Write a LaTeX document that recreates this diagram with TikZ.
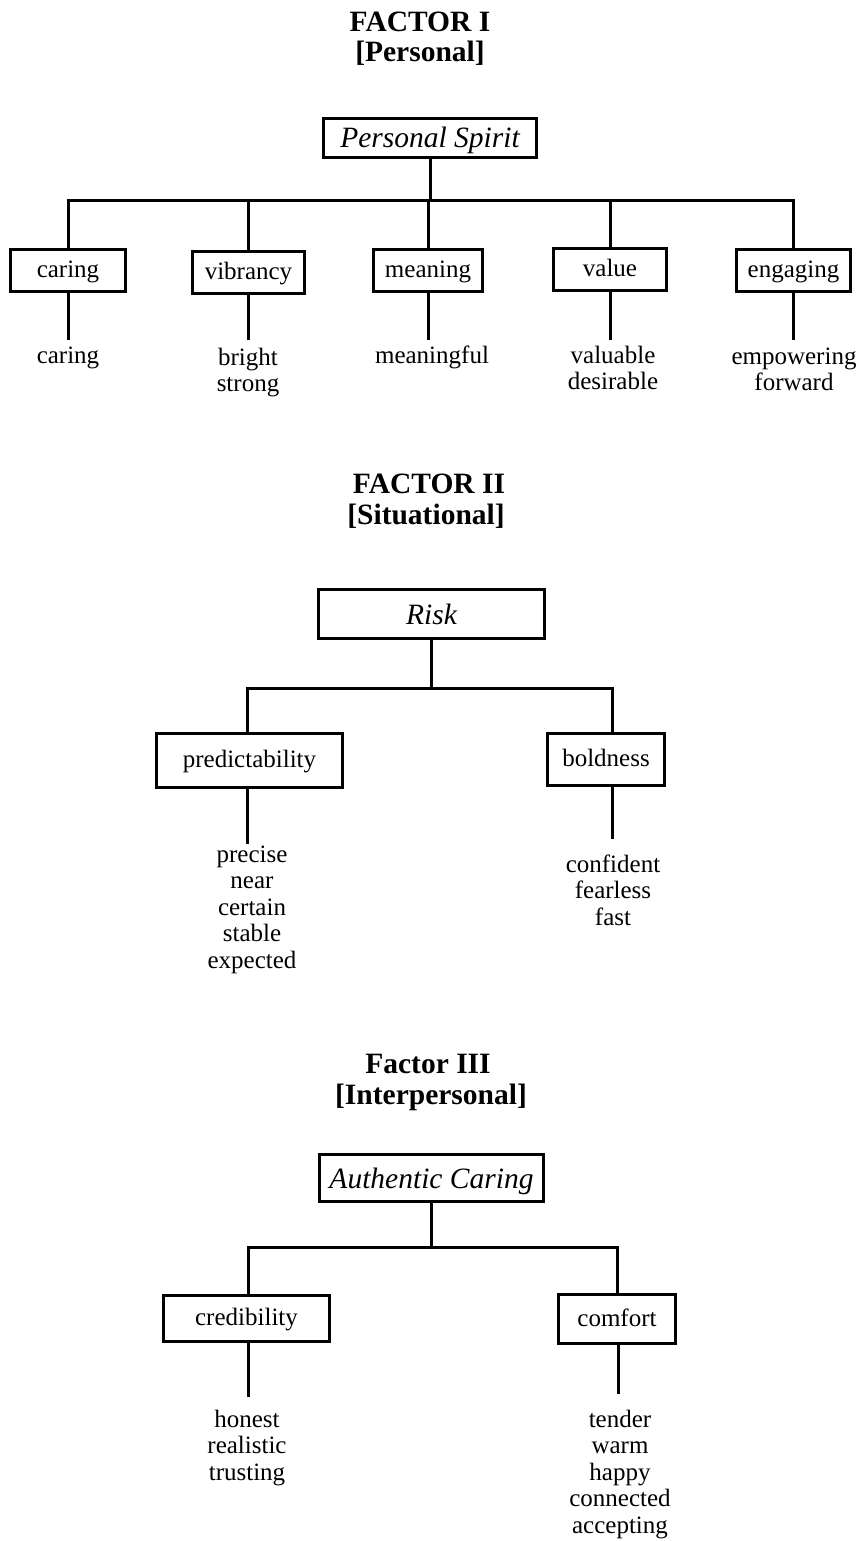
\documentclass[tikz,border=0pt]{standalone}
\usepackage{fontspec}
\setmainfont{Liberation Serif}
\begin{document}
\begin{tikzpicture}[x=1pt,y=-1pt,
  wire/.style={line width=3pt, line cap=rect},
  headline/.style={anchor=base, inner sep=0pt, font=\fontsize{29.5}{32}\selectfont\bfseries},
  factorbox/.style={draw, line width=3pt, fill=white, inner sep=0pt,
    font=\fontsize{29.5}{32}\selectfont\itshape, text height=23pt, text depth=3pt},
  aspectbox/.style={draw, line width=3pt, fill=white, inner sep=0pt,
    font=\fontsize{25}{27}\selectfont, text height=18pt, text depth=4pt},
  leaf/.style={anchor=base, inner sep=0pt, font=\fontsize{25}{26.6}\selectfont}
]
\useasboundingbox (0,0) rectangle (859,1541);

% ---------------- Factor I ----------------
\node[headline] (t1) at (420,32) {FACTOR I};
\node[headline] (s1) at (420,62) {[Personal]};

\node[factorbox, minimum width=213pt, minimum height=39pt] (ps) at (430,138) {Personal Spirit};

\node[aspectbox, minimum width=115pt, minimum height=42pt] (a1) at (68,270.5)  {caring};
\node[aspectbox, minimum width=112pt, minimum height=42pt] (a2) at (248.5,272.5) {vibrancy};
\node[aspectbox, minimum width=109pt, minimum height=42pt] (a3) at (428,270.5) {meaning};
\node[aspectbox, minimum width=113pt, minimum height=42pt] (a4) at (610,269.5) {value};
\node[aspectbox, minimum width=114pt, minimum height=42pt] (a5) at (793.5,270.5) {engaging};

\coordinate (b1) at (430,201);
\draw[wire] (ps.south) -- (ps.south |- b1);
\draw[wire] (a1.north) -- (a1.north |- b1) -- (a5.north |- b1) -- (a5.north);
\foreach \n in {a2,a3,a4} \draw[wire] (\n.north |- b1) -- (\n.north);

\coordinate (e1) at (0,338);
\foreach \n in {a1,a2,a3,a4,a5} \draw[wire] (\n.south) -- (\n.south |- e1);

\node[leaf] (l1) at (68,363)  {caring};
\node[leaf] (l2) at (248,365) {\begin{tabular}[t]{@{}c@{}}bright\\strong\end{tabular}};
\node[leaf] (l3) at (432,363) {meaningful};
\node[leaf] (l4) at (613,363) {\begin{tabular}[t]{@{}c@{}}valuable\\desirable\end{tabular}};
\node[leaf] (l5) at (794,364) {\begin{tabular}[t]{@{}c@{}}empowering\\forward\end{tabular}};

% ---------------- Factor II ----------------
\node[headline] (t2) at (429,493) {FACTOR II};
\node[headline] (s2) at (426,524) {[Situational]};

\node[factorbox, minimum width=226pt, minimum height=49pt] (risk) at (431.5,614) {Risk};

\node[aspectbox, minimum width=186pt, minimum height=54pt] (pred) at (249.5,760.5) {predictability};
\node[aspectbox, minimum width=117pt, minimum height=52pt] (bold) at (606,759.5) {boldness};

\coordinate (j2l) at (247,688);
\coordinate (j2r) at (612,688);
\draw[wire] (risk.south) -- (risk.south |- j2l);
\draw[wire] (j2l |- pred.north) -- (j2l) -- (j2r) -- (j2r |- bold.north);

\coordinate (e2l) at (247,842);
\coordinate (e2r) at (612,837);
\draw[wire] (e2l |- pred.south) -- (e2l);
\draw[wire] (e2r |- bold.south) -- (e2r);

\node[leaf] (l6) at (252,862) {\begin{tabular}[t]{@{}c@{}}precise\\near\\certain\\stable\\expected\end{tabular}};
\node[leaf] (l7) at (613,872) {\begin{tabular}[t]{@{}c@{}}confident\\fearless\\fast\end{tabular}};

% ---------------- Factor III ----------------
\node[headline] (t3) at (428,1073) {Factor III};
\node[headline] (s3) at (431,1104) {[Interpersonal]};

\node[factorbox, minimum width=224pt, minimum height=47pt] (ac) at (431.5,1178) {Authentic Caring};

\node[aspectbox, minimum width=166pt, minimum height=46pt] (cred) at (246.5,1318.5) {credibility};
\node[aspectbox, minimum width=117pt, minimum height=49pt] (comf) at (617,1319) {comfort};

\coordinate (j3l) at (248,1247);
\coordinate (j3r) at (617,1247);
\draw[wire] (ac.south) -- (ac.south |- j3l);
\draw[wire] (j3l |- cred.north) -- (j3l) -- (j3r) -- (j3r |- comf.north);

\coordinate (e3l) at (248,1395);
\coordinate (e3r) at (618,1392);
\draw[wire] (e3l |- cred.south) -- (e3l);
\draw[wire] (e3r |- comf.south) -- (e3r);

\node[leaf] (l8) at (247,1427) {\begin{tabular}[t]{@{}c@{}}honest\\realistic\\trusting\end{tabular}};
\node[leaf] (l9) at (620,1427) {\begin{tabular}[t]{@{}c@{}}tender\\warm\\happy\\connected\\accepting\end{tabular}};
\end{tikzpicture}
\end{document}
